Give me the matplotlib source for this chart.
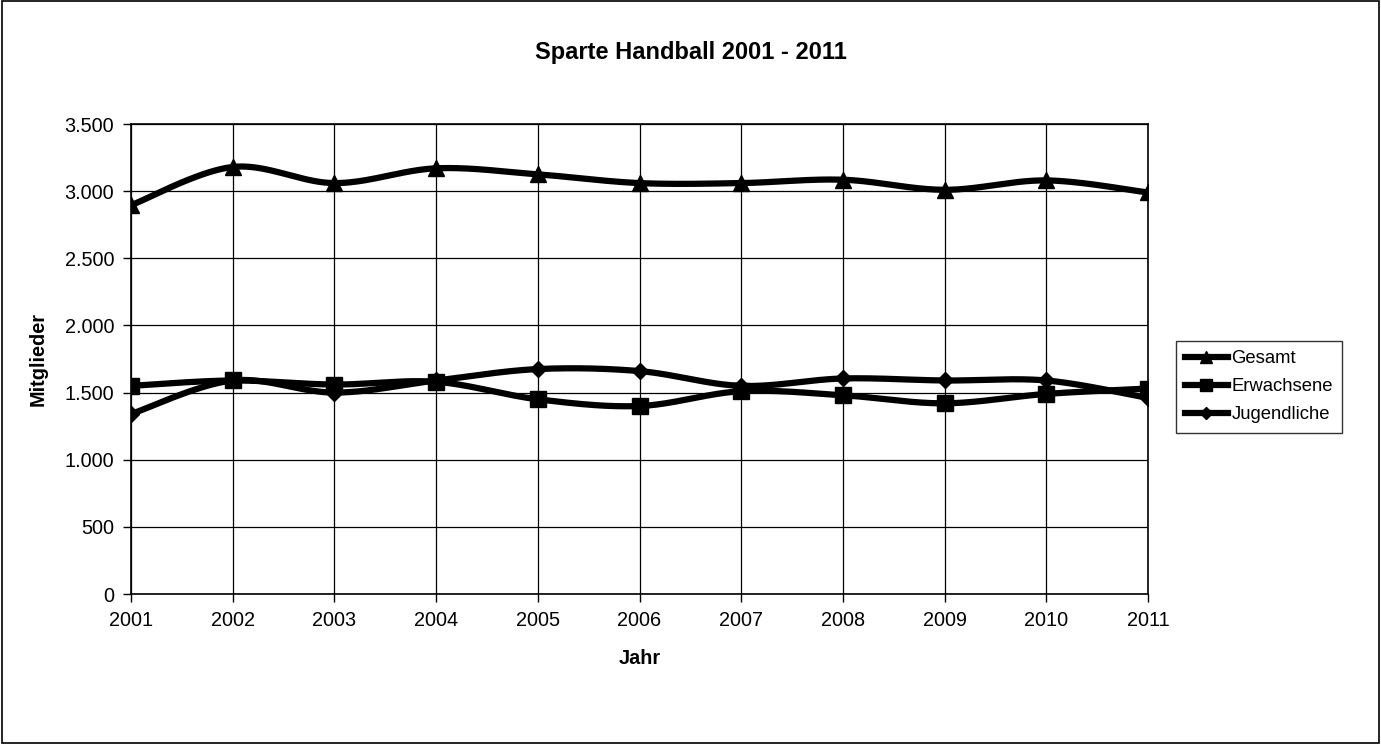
import numpy as np
import matplotlib
matplotlib.use("Agg")
import matplotlib.pyplot as plt
from matplotlib.ticker import FuncFormatter, MultipleLocator

years = [2001, 2002, 2003, 2004, 2005, 2006, 2007, 2008, 2009, 2010, 2011]
gesamt = [2895, 3180, 3060, 3170, 3125, 3060, 3060, 3085, 3010, 3080, 2990]
erwachsene = [1550, 1590, 1560, 1580, 1450, 1400, 1510, 1480, 1420, 1490, 1530]
jugendliche = [1340, 1590, 1500, 1590, 1675, 1660, 1550, 1605, 1590, 1590, 1460]

title = "Sparte Handball 2001 - 2011"
xlabel = "Jahr"
ylabel = "Mitglieder"

plt.rcParams['font.family'] = ['Liberation Sans', 'DejaVu Sans']

W, H = 1381, 744


def smooth(x, y, n=40):
    """Excel-like smoothed line: cubic Bezier with Catmull-Rom control points."""
    x = np.asarray(x, float)
    y = np.asarray(y, float)
    px = np.concatenate([[x[0]], x, [x[-1]]])
    py = np.concatenate([[y[0]], y, [y[-1]]])
    xs, ys = [], []
    t = np.linspace(0, 1, n)
    for i in range(len(x) - 1):
        p0 = np.array([px[i + 1], py[i + 1]])
        p3 = np.array([px[i + 2], py[i + 2]])
        prev = np.array([px[i], py[i]])
        nxt = np.array([px[i + 3], py[i + 3]])
        c1 = p0 + (p3 - prev) / 6.0
        c2 = p3 - (nxt - p0) / 6.0
        b = ((1 - t) ** 3)[:, None] * p0 + (3 * (1 - t) ** 2 * t)[:, None] * c1 \
            + (3 * (1 - t) * t ** 2)[:, None] * c2 + (t ** 3)[:, None] * p3
        xs.append(b[:, 0]); ys.append(b[:, 1])
    return np.concatenate(xs), np.concatenate(ys)


fig = plt.figure(figsize=(W / 100, H / 100), dpi=100)
fig.patch.set_facecolor('white')
# outer frame
fig.add_artist(plt.Rectangle((0.0015, 0.002), 0.997, 0.996, transform=fig.transFigure,
                             fill=False, edgecolor='black', linewidth=1.2))

ax = fig.add_axes([131 / W, 1 - 594 / H, (1148 - 131) / W, (594 - 124) / H])

series = [(gesamt, '^', 'Gesamt'), (erwachsene, 's', 'Erwachsene'), (jugendliche, 'D', 'Jugendliche')]
handles = []
for vals, mk, lab in series:
    sx, sy = smooth(years, vals)
    ax.plot(sx, sy, color='black', linewidth=4.5, solid_capstyle='round', zorder=3)
    ms = 12 if mk != 'D' else 8.5
    ax.plot(years, vals, linestyle='none', marker=mk, markersize=ms, color='black', zorder=4)
    lms = 8.5 if mk != 'D' else 6.5
    h, = ax.plot([], [], color='black', linewidth=4.5, marker=mk, markersize=lms, label=lab)
    handles.append(h)

ax.set_xlim(2001, 2011)
ax.set_ylim(0, 3500)
ax.set_xticks(years)
ax.yaxis.set_major_locator(MultipleLocator(500))
ax.yaxis.set_major_formatter(FuncFormatter(lambda v, p: f"{int(v):,}".replace(",", ".")))
ax.grid(True, color='black', linewidth=0.9)
ax.set_axisbelow(True)
for s in ax.spines.values():
    s.set_linewidth(1.2)
ax.tick_params(axis='both', labelsize=14.3, length=6, width=1, direction='out', pad=6)

fig.text(0.5, 1 - 53 / H, title, fontsize=17, fontweight='bold', ha='center', va='center')
fig.text((131 + 1148) / 2 / W, 1 - 658 / H, xlabel, fontsize=14.3, fontweight='bold',
         ha='center', va='center')
fig.text(38 / W, 1 - 359 / H, ylabel, fontsize=14.3, fontweight='bold',
         ha='center', va='center', rotation=90)

leg = fig.legend(handles=handles, loc='upper left', bbox_to_anchor=(1176 / W, 1 - 341 / H),
                 frameon=True, fancybox=False, edgecolor='black', fontsize=13.3,
                 handlelength=2.3, handletextpad=0.2, borderpad=0.5, labelspacing=0.6,
                 borderaxespad=0)
leg.get_frame().set_linewidth(1.0)

fig.savefig('out.png', dpi=100, facecolor='white')
